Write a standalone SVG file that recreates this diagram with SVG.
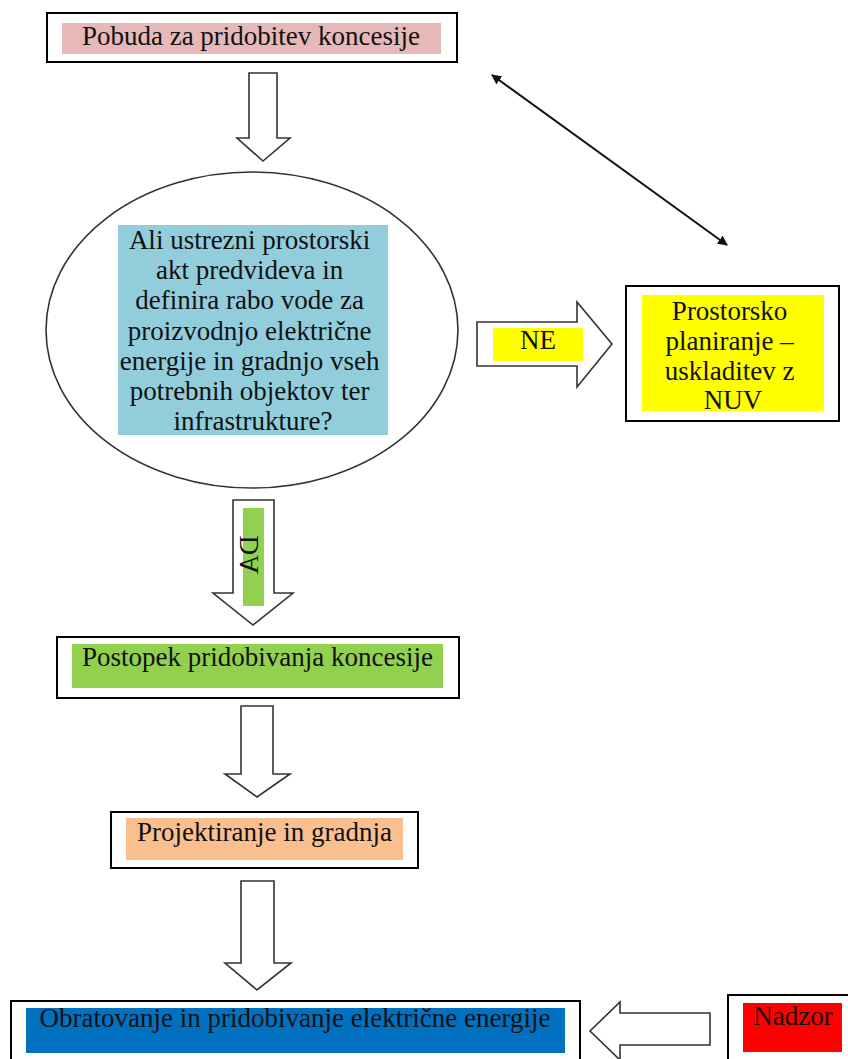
<svg xmlns="http://www.w3.org/2000/svg" width="848" height="1059" viewBox="0 0 848 1059">
<style>
.box{fill:#fff;stroke:#000;stroke-width:2}
.arr{fill:#fff;stroke:#333;stroke-width:1.6;stroke-linejoin:miter}
.t{font-family:"Liberation Serif","Times New Roman",serif;font-size:27px;fill:#111;text-anchor:middle}
.line{stroke:#111;stroke-width:2;fill:none}
</style>
<defs>
<marker id="ah" viewBox="0 0 10 10" refX="9" refY="5" markerWidth="5" markerHeight="5" orient="auto-start-reverse" markerUnits="strokeWidth">
<path d="M0,0 L10,5 L0,10 z" fill="#111"/>
</marker>
</defs>
<rect width="848" height="1059" fill="#fff"/>
<g id="connectors">
<path class="arr" d="M249,73 H277 V138 H290 L263,161 L237,138 H249 Z"/>
<path class="arr" d="M233,500 H274 V593 H293 L253,625 L213,593 H233 Z"/>
<path class="arr" d="M241,706 H273 V774 H290 L257,797 L225,774 H241 Z"/>
<path class="arr" d="M241,881 H274 V963 H291 L257,990 L225,963 H241 Z"/>
<path class="arr" d="M477,322 H577 V302 L612,344 L577,387 V366 H477 Z"/>
<path class="arr" d="M710,1013 H620 V1002 L590,1031 L620,1060 V1045 H710 Z"/>
<line class="line" x1="492" y1="75" x2="727" y2="245" marker-start="url(#ah)" marker-end="url(#ah)"/>
<g id="label-ne">
<rect x="493" y="328" width="90" height="33" fill="#ffff00"/>
<text class="t" x="538" y="349">NE</text>
</g>
<g id="label-da">
<rect x="243" y="508" width="21" height="98" fill="#92d050"/>
<text class="t" transform="matrix(0,1,1,0,258,555)" x="0" y="0">DA</text>
</g>
</g>
<g id="n-pobuda">
<rect class="box" x="47" y="13" width="410" height="49"/>
<rect x="62" y="23" width="379" height="31" fill="#e6b9b8"/>
<text class="t" x="251" y="45">Pobuda za pridobitev koncesije</text>
</g>
<g id="n-vprasanje">
<ellipse cx="252" cy="330" rx="206" ry="158" fill="#fff" stroke="#333" stroke-width="1.6"/>
<rect x="118" y="225" width="270" height="210" fill="#92cddc"/>
<text class="t">
<tspan x="253" y="249">Ali ustrezni prostorski</tspan>
<tspan x="253" y="279">akt predvideva in</tspan>
<tspan x="253" y="309">definira rabo vode za</tspan>
<tspan x="253" y="339.5">proizvodnjo električne</tspan>
<tspan x="253" y="369.5">energije in gradnjo vseh</tspan>
<tspan x="253" y="400">potrebnih objektov ter</tspan>
<tspan x="253" y="430">infrastrukture?</tspan>
</text>
</g>
<g id="n-prostorsko">
<rect class="box" x="626" y="286" width="213" height="135"/>
<rect x="642" y="295" width="182" height="116" fill="#ffff00"/>
<text class="t">
<tspan x="733" y="320">Prostorsko</tspan>
<tspan x="733" y="350">planiranje –</tspan>
<tspan x="733" y="380">uskladitev z</tspan>
<tspan x="733" y="409">NUV</tspan>
</text>
</g>
<g id="n-postopek">
<rect class="box" x="57" y="637" width="402" height="61"/>
<rect x="72" y="644" width="371" height="44" fill="#92d050"/>
<text class="t" x="257.5" y="666">Postopek pridobivanja koncesije</text>
</g>
<g id="n-projektiranje">
<rect class="box" x="111" y="812" width="307" height="56"/>
<rect x="126" y="818" width="277" height="42" fill="#fabf8f"/>
<text class="t" x="264.5" y="841">Projektiranje in gradnja</text>
</g>
<g id="n-obratovanje">
<rect class="box" x="11" y="1001" width="569" height="70"/>
<rect x="26" y="1008" width="539" height="45" fill="#0070c0"/>
<text class="t" x="295" y="1027">Obratovanje in pridobivanje električne energije</text>
</g>
<g id="n-nadzor">
<rect class="box" x="728" y="995" width="130" height="80"/>
<rect x="743" y="1003" width="99" height="49" fill="#ff0000"/>
<text class="t" x="793" y="1025">Nadzor</text>
</g>
</svg>
